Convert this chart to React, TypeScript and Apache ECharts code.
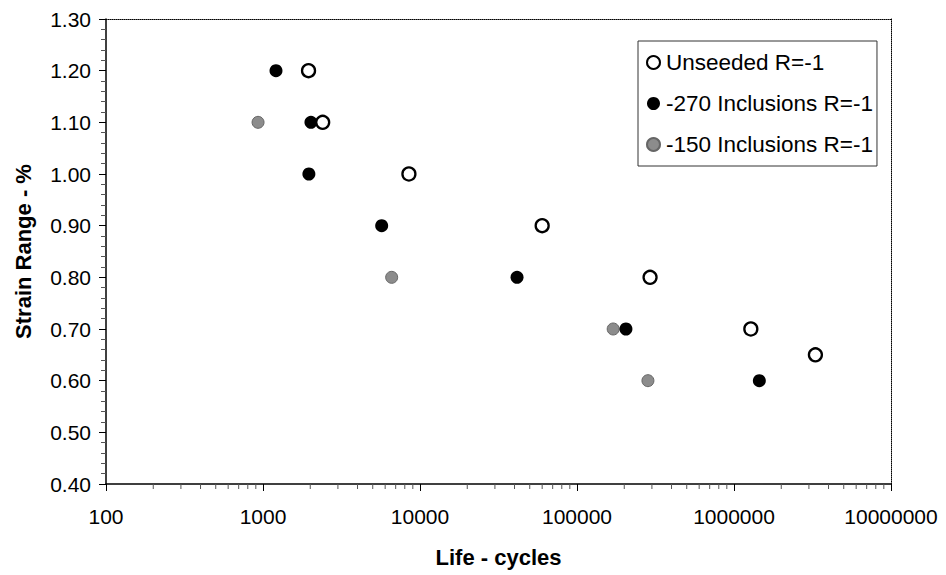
import React, { useEffect, useRef } from "react";
import * as echarts from "echarts";

const unseeded: [number, number][] = [
  [1950, 1.2],
  [2400, 1.1],
  [8500, 1.0],
  [60000, 0.9],
  [292000, 0.8],
  [1280000, 0.7],
  [3300000, 0.65],
];
const inclusions270: [number, number][] = [
  [1210, 1.2],
  [2020, 1.1],
  [1960, 1.0],
  [5700, 0.9],
  [41500, 0.8],
  [205000, 0.7],
  [1450000, 0.6],
];
const inclusions150: [number, number][] = [
  [930, 1.1],
  [6600, 0.8],
  [170000, 0.7],
  [283000, 0.6],
];
const seriesNames = ["Unseeded R=-1", "-270 Inclusions R=-1", "-150 Inclusions R=-1"];
const xMin = 100;
const xMax = 10000000;
const yMin = 0.4;
const yMax = 1.3;
const yStep = 0.1;

const minorTickValues: [number, number][] = [];
for (let d = xMin; d < xMax; d *= 10) {
  for (let k = 2; k <= 9; k++) minorTickValues.push([d * k, yMin]);
}

const FONT = "'Liberation Sans', Arial, sans-serif";

export default function App() {
  const ref = useRef<HTMLDivElement>(null);
  useEffect(() => {
    if (!ref.current) return;
    const chart = echarts.init(ref.current, undefined, { renderer: "svg" });
    const labelStyle = { fontFamily: FONT, fontSize: 21, color: "#000" };
    chart.setOption({
      animation: false,
      backgroundColor: "#fff",
      grid: { left: 106, top: 19, right: 55, bottom: 91, containLabel: false },
      legend: {
        data: seriesNames,
        orient: "vertical",
        left: 638,
        top: 41,
        padding: [10, 4, 10, 8],
        itemGap: 18,
        itemWidth: 13,
        itemHeight: 13,
        borderColor: "#333",
        borderWidth: 1,
        backgroundColor: "#fff",
        textStyle: { fontFamily: FONT, fontSize: 22.5, color: "#000", padding: [0, 0, 0, 1] },
        icon: "circle",
      },
      xAxis: [
        {
          type: "log",
          logBase: 10,
          min: xMin,
          max: xMax,
          name: "Life - cycles",
          nameLocation: "middle",
          nameGap: 62,
          nameTextStyle: { fontFamily: FONT, fontSize: 22, fontWeight: "bold", color: "#000" },
          axisLine: { show: true, lineStyle: { color: "#000", width: 1.5 } },
          axisTick: { show: true, inside: false, length: 7, lineStyle: { color: "#000", width: 1 } },
          axisLabel: { ...labelStyle, margin: 22, formatter: (v: number) => String(Math.round(v)) },
          splitLine: { show: false },
        },
        {
          type: "log",
          logBase: 10,
          min: xMin,
          max: xMax,
          position: "top",
          axisLine: { show: true, lineStyle: { color: "#000", width: 1, type: "dotted" } },
          axisTick: { show: false },
          axisLabel: { show: false },
          splitLine: { show: false },
        },
      ],
      yAxis: [
        {
          type: "value",
          min: yMin,
          max: yMax,
          interval: yStep,
          name: "Strain Range - %",
          nameLocation: "middle",
          nameGap: 72,
          nameTextStyle: { fontFamily: FONT, fontSize: 22, fontWeight: "bold", color: "#000" },
          axisLine: { show: true, lineStyle: { color: "#000", width: 1.5 } },
          axisTick: { show: true, inside: false, length: 7, lineStyle: { color: "#000", width: 1 } },
          minorTick: { show: true, splitNumber: 5, length: 5, lineStyle: { color: "#555", width: 1 } },
          axisLabel: { ...labelStyle, margin: 15, formatter: (v: number) => v.toFixed(2) },
          splitLine: { show: false },
        },
        {
          type: "value",
          min: yMin,
          max: yMax,
          interval: yStep,
          position: "right",
          axisLine: { show: true, lineStyle: { color: "#000", width: 1, type: "dotted" } },
          axisTick: { show: false },
          axisLabel: { show: false },
          splitLine: { show: false },
        },
      ],
      series: [
        {
          name: seriesNames[0],
          type: "scatter",
          data: unseeded,
          symbol: "circle",
          symbolSize: 13,
          z: 4,
          itemStyle: { color: "#fff", borderColor: "#000", borderWidth: 2.3, opacity: 1 },
        },
        {
          name: seriesNames[1],
          type: "scatter",
          data: inclusions270,
          symbol: "circle",
          symbolSize: 13,
          z: 3,
          itemStyle: { color: "#000", opacity: 1 },
        },
        {
          name: seriesNames[2],
          type: "scatter",
          data: inclusions150,
          symbol: "circle",
          symbolSize: 12,
          z: 2,
          itemStyle: { color: "#8c8c8c", borderColor: "#666", borderWidth: 1, opacity: 1 },
        },
        {
          type: "custom",
          name: "minorTicks",
          data: minorTickValues,
          clip: false,
          silent: true,
          renderItem: (_params: any, api: any) => {
            const p = api.coord([api.value(0), api.value(1)]);
            return {
              type: "line",
              shape: { x1: p[0], y1: p[1], x2: p[0], y2: p[1] + 5 },
              style: { stroke: "#555", lineWidth: 1 },
            };
          },
        },
      ],
    });
    return () => chart.dispose();
  }, []);
  return (
    <div
      ref={ref}
      style={{ position: "fixed", left: 0, top: 0, width: 946, height: 575, background: "#fff" }}
    />
  );
}
